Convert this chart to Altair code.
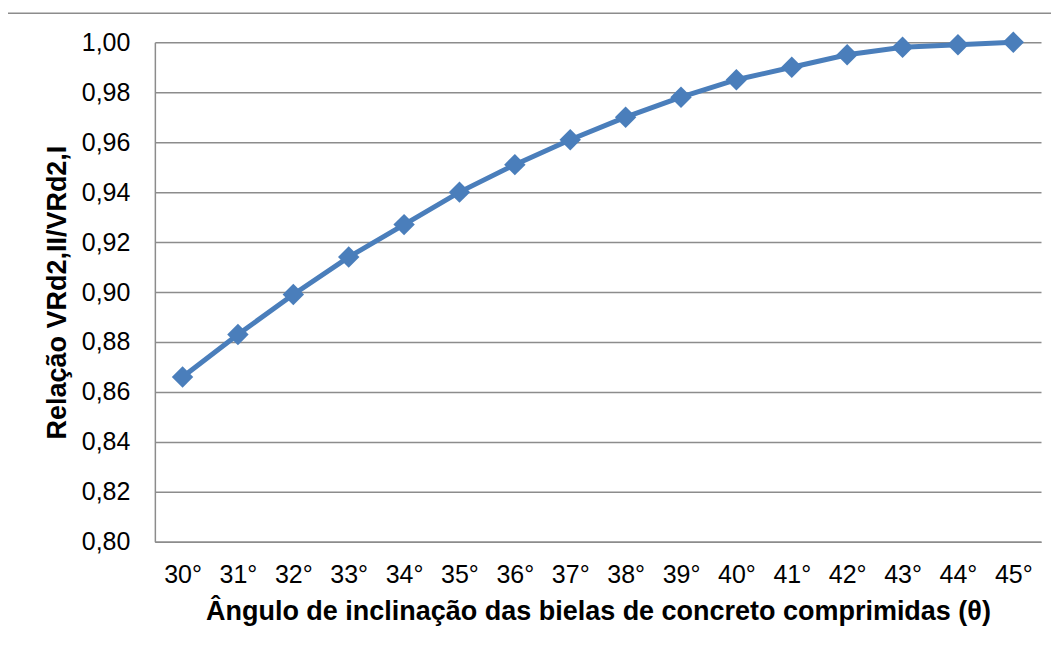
import altair as alt
import pandas as pd

angles = ["30°", "31°", "32°", "33°", "34°", "35°", "36°", "37°",
          "38°", "39°", "40°", "41°", "42°", "43°", "44°", "45°"]
ratios = [0.866, 0.883, 0.899, 0.914, 0.927, 0.940, 0.951, 0.961,
          0.970, 0.978, 0.985, 0.990, 0.995, 0.998, 0.999, 1.000]
y_ticks = [0.80, 0.82, 0.84, 0.86, 0.88, 0.90, 0.92, 0.94, 0.96, 0.98, 1.00]

df = pd.DataFrame({"angle": angles, "ratio": ratios})

FONT = "Liberation Sans"
BLUE = "#4A7EBB"
GRID = "#8c8c8c"

base = alt.Chart(df)

x_enc = alt.X(
    "angle:N",
    sort=angles,
    scale=alt.Scale(type="point", padding=0.5),
    axis=alt.Axis(
        title="Ângulo de inclinação das bielas de concreto comprimidas (θ)",
        labelAngle=0, ticks=False, grid=False, domain=True,
        domainColor=GRID, domainWidth=1.5,
        labelFont=FONT, labelFontSize=25, labelColor="#000000", labelPadding=21,
        titleFont=FONT, titleFontSize=27, titleFontWeight="bold",
        titleColor="#000000", titlePadding=11,
    ),
)
y_enc = alt.Y(
    "ratio:Q",
    scale=alt.Scale(domain=[0.80, 1.00], nice=False, zero=False),
    axis=alt.Axis(
        values=y_ticks,
        labelExpr="replace(format(datum.value, '.2f'), '.', ',')",
        title="Relação VRd2,II/VRd2,I",
        ticks=False, grid=True, gridColor=GRID, gridWidth=1.5,
        domain=True, domainColor=GRID, domainWidth=1.5,
        labelFont=FONT, labelFontSize=25, labelColor="#000000", labelPadding=25,
        titleFont=FONT, titleFontSize=27, titleFontWeight="bold",
        titleColor="#000000", titlePadding=10,
    ),
)

line = base.mark_line(color=BLUE, strokeWidth=5).encode(x=x_enc, y=y_enc)
points = base.mark_point(shape="diamond", filled=True, color=BLUE, size=460, opacity=1).encode(
    x=alt.X("angle:N", sort=angles), y=alt.Y("ratio:Q")
)

frame = alt.Chart(pd.DataFrame({"a": [0]})).mark_rect(
    fillOpacity=0, stroke=GRID, strokeWidth=1.5
).encode(
    x=alt.value(-148), x2=alt.value(1200),
    y=alt.value(-29), y2=alt.value(900),
)

chart = alt.layer(frame, line, points).properties(
    width=887,
    height=500,
    autosize=alt.AutoSizeParams(type="none"),
    padding={"left": 147, "top": 34, "right": 10, "bottom": 100},
    background="#ffffff",
).configure_view(stroke=None)

chart.save("out.html", embed_options={"renderer": "svg", "actions": False})
